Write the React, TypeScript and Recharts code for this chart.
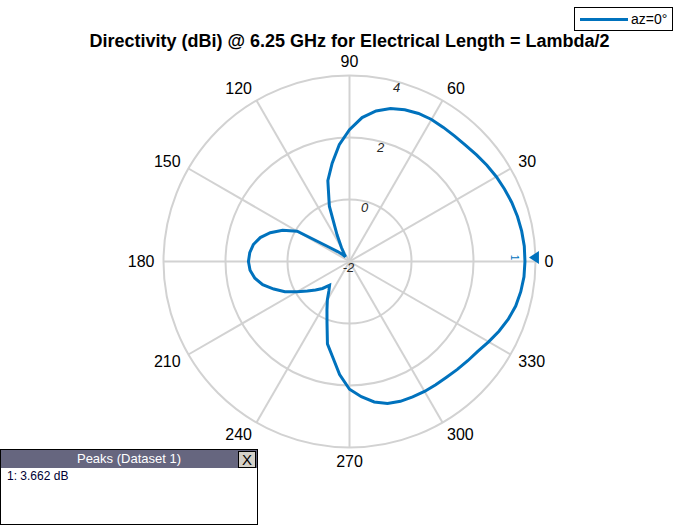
import { RadarChart, Radar, PolarGrid, PolarAngleAxis, PolarRadiusAxis, Legend } from 'recharts';

// azimuth cut, every 5 degrees
const angles = [
  0, 5, 10, 15, 20, 25, 30, 35, 40, 45, 50, 55,
  60, 65, 70, 75, 80, 85, 90, 95, 100, 105, 110, 115,
  120, 125, 130, 135, 140, 145, 150, 155, 160, 165, 170, 175,
  180, 185, 190, 195, 200, 205, 210, 215, 220, 225, 230, 235,
  240, 245, 250, 255, 260, 265, 270, 275, 280, 285, 290, 295,
  300, 305, 310, 315, 320, 325, 330, 335, 340, 345, 350, 355,
];
const directivity = [
  3.66, 3.66, 3.64, 3.61, 3.57, 3.52, 3.47, 3.41, 3.35, 3.3, 3.28, 3.28,
  3.29, 3.27, 3.21, 3.11, 2.93, 2.66, 2.25, 1.78, 1.22, 0.7, -0.1, -1.05,
  -1.48, -1.7, -1.8, -1.68, -1.5, -1.2, -0.05, 0.38, 0.72, 0.98, 1.15, 1.23,
  1.26, 1.22, 1.1, 0.9, 0.6, 0.3, -0.05, -0.34, -0.57, -0.77, -1.0, -0.84,
  -0.57, -0.28, 0.12, 0.75, 1.13, 1.66, 2.12, 2.38, 2.6, 2.74, 2.8, 2.82,
  2.84, 2.85, 2.87, 2.92, 2.98, 3.05, 3.18, 3.32, 3.45, 3.55, 3.61, 3.65,
];
const thetaGrid = [0, 30, 60, 90, 120, 150, 180, 210, 240, 270, 300, 330];
const rDomain = [-2, 4];
const peakAngle = 0;
const peakValue = 3.662;
const seriesName = 'az=0°';

const data = angles.map((a, i) => ({ angle: a, dbi: directivity[i] }));

const FF = 'Arial, "Liberation Sans", Helvetica, sans-serif';
const BLUE = '#0072BD';

function AngleTick(props: any) {
  const { x, y, payload, textAnchor } = props;
  const a = Number(payload.value);
  if (a % 30 !== 0 || a >= 360) return <g />;
  const rad = (a * Math.PI) / 180;
  return (
    <text
      x={x + Math.cos(rad) * 3}
      y={y - Math.sin(rad) * 8}
      textAnchor={textAnchor}
      dominantBaseline="central"
      fontSize={16}
      fontFamily={FF}
      fill="#000"
    >
      {a}
    </text>
  );
}

function RadiusTick(props: any) {
  const { x, y, payload } = props;
  return (
    <text x={x - 1} y={y + 6} textAnchor="middle" dominantBaseline="central" fontSize={13} fontStyle="italic" fontFamily={FF} fill="#262626">
      {payload.value}
    </text>
  );
}

function PeakDot(props: any) {
  const { cx, cy, payload } = props;
  if (!payload || payload.angle !== peakAngle) return <g key={props.key} />;
  const tx = cx + 4;
  const ty = cy - 4;
  return (
    <g key={props.key}>
      <path d={`M${tx},${ty} L${tx + 10},${ty - 6.5} L${tx + 10},${ty + 6.5} Z`} fill={BLUE} />
      <text x={tx - 14} y={ty} fontSize={10} fontFamily={FF} fill={BLUE} textAnchor="middle" dominantBaseline="central" transform={`rotate(90 ${tx - 14} ${ty})`}>
        1
      </text>
    </g>
  );
}

function LegendBox(props: any) {
  const item = props.payload && props.payload[0];
  return (
    <div style={{ border: '1px solid #000', background: '#fff', display: 'flex', alignItems: 'center', padding: '3px 5px 3px 5px', fontFamily: FF, fontSize: 14 }}>
      <span style={{ display: 'inline-block', width: 48, height: 3, background: BLUE, marginRight: 3 }} />
      <span>{item ? item.value : seriesName}</span>
    </div>
  );
}

export default function App() {
  return (
    <div style={{ position: 'absolute', left: 0, top: 0, width: 700, height: 525, background: '#fff', fontFamily: FF }}>
      <div style={{ position: 'absolute', left: 0, top: 31, width: 699, textAlign: 'center', fontWeight: 'bold', fontSize: 18, lineHeight: '20px' }}>
        Directivity (dBi) @ 6.25 GHz for Electrical Length = Lambda/2
      </div>
      <RadarChart
        width={700}
        height={525}
        data={data}
        cx={349.5}
        cy={261.5}
        innerRadius={0}
        outerRadius={186}
        startAngle={0}
        endAngle={360}
        margin={{ top: 0, right: 0, bottom: 0, left: 0 }}
      >
        <PolarGrid gridType="circle" polarAngles={thetaGrid} stroke="#d2d2d2" strokeWidth={2} />
        <PolarAngleAxis dataKey="angle" type="number" domain={[0, 360]} tickCount={13} tick={<AngleTick />} tickLine={false} axisLine={false} tickSize={6} />
        <PolarRadiusAxis angle={75} domain={rDomain} tickCount={4} axisLine={false} tickLine={false} tick={<RadiusTick />} />
        <Radar
          name={seriesName}
          dataKey="dbi"
          stroke={BLUE}
          strokeWidth={3}
          fill="none"
          fillOpacity={0}
          dot={(p: any) => <PeakDot {...p} />}
          isAnimationActive={false}
        />
        <Legend content={<LegendBox />} wrapperStyle={{ position: 'absolute', left: 574, top: 7, width: 'auto' }} />
      </RadarChart>
      <div style={{ position: 'absolute', left: 0, top: 449, width: 256, height: 74, border: '1px solid #000', background: '#fff' }}>
        <div style={{ position: 'relative', height: 18, background: '#66667f', color: '#fff', fontSize: 13, lineHeight: '18px', textAlign: 'center' }}>
          Peaks (Dataset 1)
          <div style={{ position: 'absolute', right: 1, top: 1, width: 16, height: 15, background: '#d4d0c8', border: '1px solid #000', color: '#000', fontSize: 15, lineHeight: '15px', textAlign: 'center' }}>
            X
          </div>
        </div>
        <div style={{ fontSize: 12, color: '#000033', padding: '1px 6px', lineHeight: '14px' }}>
          1: {peakValue.toFixed(3)} dB
        </div>
      </div>
    </div>
  );
}
